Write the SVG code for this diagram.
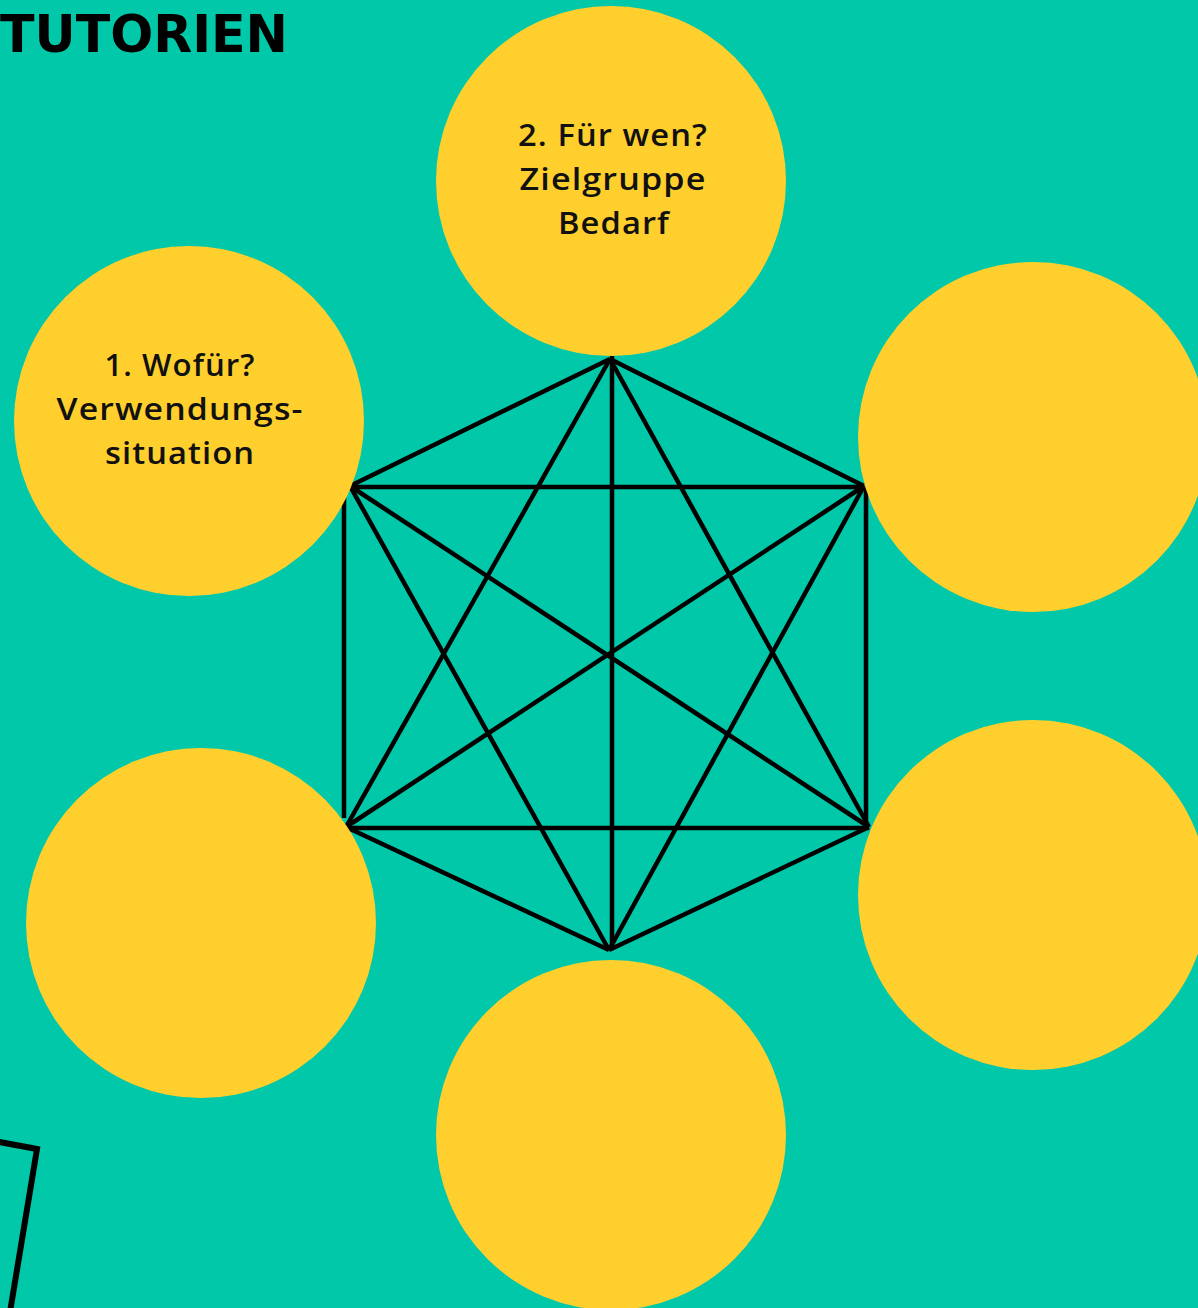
<svg xmlns="http://www.w3.org/2000/svg" width="1198" height="1308" viewBox="0 0 1198 1308">
<style>
.bg{fill:#00C8A9}
.c{fill:#FFCF2D}
.e{stroke:#000;stroke-width:4.5;fill:none;stroke-linecap:butt}
.t{font-family:"Open Sans","Noto Sans",sans-serif;font-weight:600;font-size:30px;fill:#111;text-anchor:middle;letter-spacing:1px}
.h{font-family:"DejaVu Sans","Liberation Sans",sans-serif;font-weight:900;font-size:52px;fill:#000}
</style>
<rect class="bg" x="0" y="0" width="1198" height="1308"/>
<g id="title"><text class="h" x="0" y="52" textLength="288" lengthAdjust="spacingAndGlyphs">TUTORIEN</text></g>
<g id="frame"><polyline points="-6,1141 37,1149 10,1312" fill="none" stroke="#000" stroke-width="6"/></g>
<g id="connectors">
<line class="e" x1="610" y1="359" x2="350" y2="486"/>
<line class="e" x1="610" y1="359" x2="864" y2="486"/>
<line class="e" x1="610" y1="359" x2="346" y2="827"/>
<line class="e" x1="610" y1="359" x2="869" y2="827"/>
<line class="e" x1="612" y1="356" x2="612" y2="946"/>
<line class="e" x1="350" y1="487" x2="864" y2="487"/>
<line class="e" x1="344" y1="497" x2="344" y2="818"/>
<line class="e" x1="350" y1="486" x2="869" y2="827"/>
<line class="e" x1="350" y1="486" x2="609" y2="950"/>
<line class="e" x1="864" y1="486" x2="346" y2="827"/>
<line class="e" x1="864" y1="486" x2="609" y2="950"/>
<line class="e" x1="866" y1="486" x2="866" y2="826"/>
<line class="e" x1="346" y1="828" x2="869" y2="828"/>
<line class="e" x1="346" y1="827" x2="609" y2="950"/>
<line class="e" x1="869" y1="827" x2="609" y2="950"/>
</g>
<g id="n2"><circle class="c" cx="611" cy="181" r="175"/>
<text class="t" x="613" y="146" textLength="190" lengthAdjust="spacingAndGlyphs">2. Für wen?</text>
<text class="t" x="613" y="190" textLength="187" lengthAdjust="spacingAndGlyphs">Zielgruppe</text>
<text class="t" x="614" y="234" textLength="112" lengthAdjust="spacingAndGlyphs">Bedarf</text></g>
<g id="n1"><circle class="c" cx="189" cy="421" r="175"/>
<text class="t" x="180" y="376" textLength="151" lengthAdjust="spacingAndGlyphs">1. Wofür?</text>
<text class="t" x="180" y="420" textLength="247" lengthAdjust="spacingAndGlyphs">Verwendungs-</text>
<text class="t" x="180" y="464" textLength="150" lengthAdjust="spacingAndGlyphs">situation</text></g>
<g id="n3"><circle class="c" cx="1033" cy="437" r="175"/></g>
<g id="n4"><circle class="c" cx="1033" cy="895" r="175"/></g>
<g id="n5"><circle class="c" cx="611" cy="1135" r="175"/></g>
<g id="n6"><circle class="c" cx="201" cy="923" r="175"/></g>
</svg>
